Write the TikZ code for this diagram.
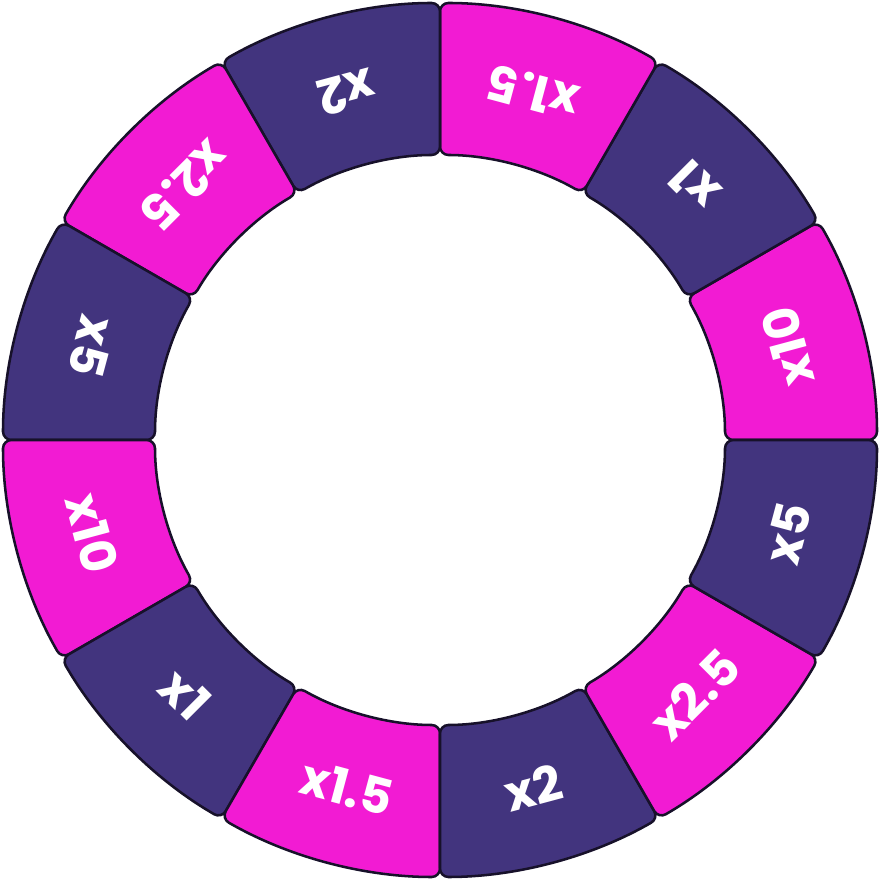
\documentclass[tikz,border=0pt]{standalone}
\usepackage{fontspec}
\setmainfont{Poppins}
\usetikzlibrary{calc}
\definecolor{WheelPink}{HTML}{F21BD3}
\definecolor{WheelPurple}{HTML}{42347E}
\definecolor{WheelEdge}{HTML}{17112A}

\begin{document}
\begin{tikzpicture}[x=0.025cm, y=0.025cm, seg/.style={draw=WheelEdge, line width=1.8pt, rounded corners=6pt}, lbl/.style={text=white, font=\fontsize{35}{35}\selectfont\bfseries}]
	\useasboundingbox (0,0) rectangle (880,880);
	\begin{scope}[shift={(440,440)}]
		% one segment of the wheel every 30 degrees
		\foreach \a/\t/\c [count=\i, evaluate=\a as \b using \a+30, evaluate=\a as \m using \a+15] in {0/x10/WheelPink, 30/x1/WheelPurple, 60/x1.5/WheelPink, 90/x2/WheelPurple, 120/x2.5/WheelPink, 150/x5/WheelPurple, 180/x10/WheelPink, 210/x1/WheelPurple, 240/x1.5/WheelPink, 270/x2/WheelPurple, 300/x2.5/WheelPink, 330/x5/WheelPurple}{
			\draw[seg, fill=\c] (\a:360) -- (\a:437) arc[start angle=\a, end angle=\b, radius=437] -- (\b:285) arc[start angle=\b, end angle=\a, radius=285] -- cycle;
			\node[lbl, rotate=\m+90] (m\i) at (\m:360) {\t};
		}
	\end{scope}
\end{tikzpicture}
\end{document}
